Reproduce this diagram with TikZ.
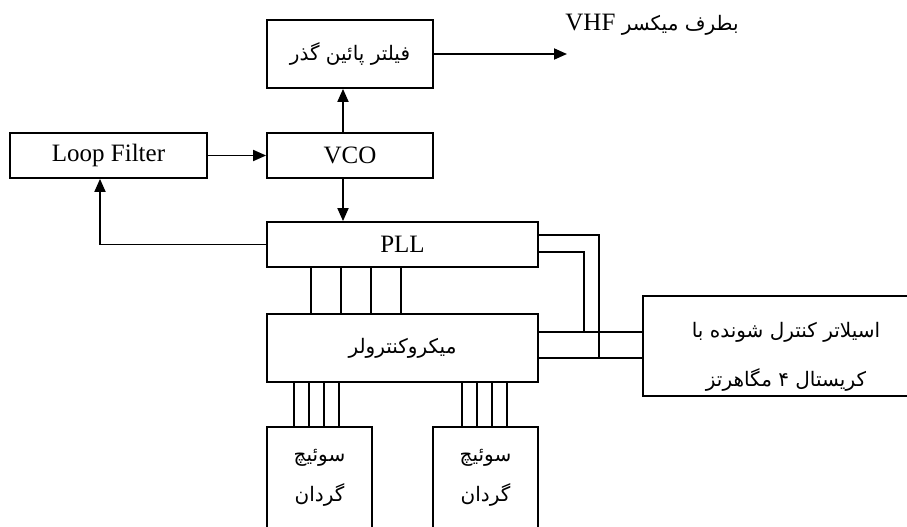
\documentclass[tikz,border=0pt]{standalone}
\usepackage{fontspec}
\setmainfont{Liberation Serif}
\newfontfamily\farsi[Script=Arabic]{DejaVu Sans}
\TeXXeTstate=1
\usetikzlibrary{arrows.meta}
\newcommand{\fa}[1]{{\farsi\fontsize{20}{24}\selectfont\beginR #1\endR}}
\tikzset{
  blk/.style={draw, line width=1.8pt, inner sep=0pt, align=center},
  wire/.style={line width=1.8pt},
}
\begin{document}
\begin{tikzpicture}[x=1pt, y=1pt, >={Triangle[length=13pt,width=11pt]},
  font=\fontsize{25}{30}\selectfont]
%% 1 unit = 1 px of the 907 x 527 frame, y grows downwards as negative
%% Rows (centre y):
%%   -54   low-pass filter
%%   -155  Loop Filter / VCO
%%   -245  PLL
%%   -348  micro-controller, oscillator
%%   -478  rotary switches (cut by the frame)
\clip (0,0) rectangle (907,-527);

%% ---- Blocks ----
\node[blk, minimum width=166, minimum height=68] (lpf) at (350,-54)
  {\fa{فیلتر پائین گذر}};
\node[blk, minimum width=166, minimum height=45] (vco) at (350,-155.5) {VCO};
\node[blk, minimum width=197, minimum height=45] (loop) at (108.5,-155.5) {Loop Filter};
\node[blk, minimum width=271, minimum height=45] (pll) at (402.5,-244.5) {PLL};
\node[blk, minimum width=271, minimum height=68] (mcu) at (402.5,-348)
  {\fa{میکروکنترولر}};
\node[blk, minimum width=286, minimum height=100] (osc) at (786,-346)
  {\rule{0pt}{36pt}\fa{اسیلاتر کنترل شونده با}\\[19pt]\fa{کریستال ۴ مگاهرتز}};
\node[blk, minimum width=105, minimum height=102] (sw1) at (319.5,-478)
  {\fa{سوئیچ}\\[10pt]\fa{گردان}};
\node[blk, minimum width=105, minimum height=102] (sw2) at (485.5,-478)
  {\fa{سوئیچ}\\[10pt]\fa{گردان}};

%% ---- Output to the mixer ----
\coordinate (vhf) at (567,-54);
\node (vhftxt) at (652,-25)
  {\farsi\fontsize{20}{24}\selectfont\beginR بطرف میکسر \beginL{\rmfamily\fontsize{25}{30}\selectfont VHF}\endL\endR};
\draw[wire, ->] (lpf.east) -- (vhf);

%% ---- Loop ----
\draw[wire, ->] (loop.east) -- (vco.west);
\draw[wire, ->] ([xshift=-7pt]vco.north) -- ([xshift=-7pt]lpf.south);
\draw[wire, ->] ([xshift=-7pt]vco.south) -- ([xshift=-7pt]vco.south |- pll.north);
\draw[wire, ->] (pll.west) -| ([xshift=-8.5pt]loop.south);

%% ---- PLL / micro bus ----
\foreach \d in {45,75,105,135}
  \draw[wire] ([xshift=\d pt]pll.south west) -- ([xshift=\d pt]mcu.north west);

%% ---- Switch buses ----
\foreach \d in {28,43,58,73}
  \draw[wire] ([xshift=\d pt]sw1.north west) -- ([xshift=\d pt]sw1.north west |- mcu.south);
\foreach \d in {30,45,60,75}
  \draw[wire] ([xshift=\d pt]sw2.north west) -- ([xshift=\d pt]sw2.north west |- mcu.south);

%% ---- Oscillator lines ----
\draw[wire] ([yshift=16pt]mcu.east) -- ([yshift=16pt]mcu.east -| osc.west);
\draw[wire] ([yshift=-10pt]mcu.east) -- ([yshift=-10pt]mcu.east -| osc.west);
\draw[wire] ([yshift=9.5pt]pll.east) -| ([xshift=60pt,yshift=-10pt]mcu.east);
\draw[wire] ([yshift=-7.5pt]pll.east) -| ([xshift=45pt,yshift=16pt]mcu.east);
\end{tikzpicture}
\end{document}
